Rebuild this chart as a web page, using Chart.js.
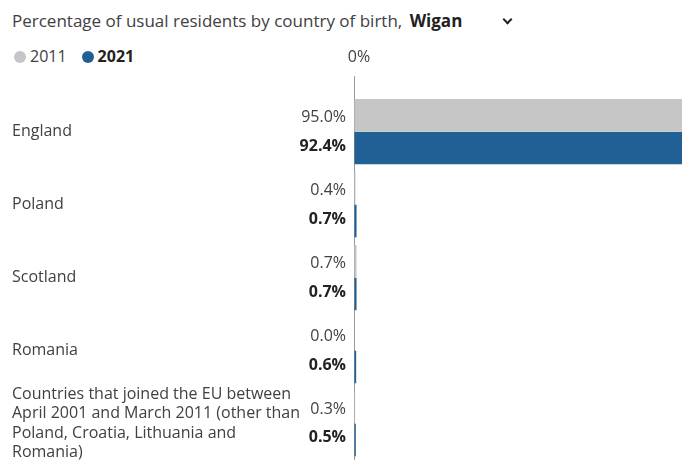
<!DOCTYPE html>
<html>

<head>
  <meta charset="UTF-8" />
  <title>Country of birth - Wigan</title>
  <script src="https://cdn.jsdelivr.net/npm/chart.js@4.4.1/dist/chart.umd.min.js"></script>
  <style>
    body { margin: 0; width: 682px; height: 464px; overflow: hidden; font-family: "Open Sans", sans-serif; color: #414042; background: #fff; position: relative; }
    #title { position: absolute; left: 12px; top: 9px; font-size: 17px; white-space: nowrap; }
    #title b { color: #222; margin-left: 3px; }
    #chev { display: inline-block; width: 5px; height: 5px; border-right: 2px solid #222; border-bottom: 2px solid #222; transform: rotate(45deg); margin-left: 42px; position: relative; top: -4px; }
    #legend { position: absolute; left: 14px; top: 45px; font-size: 16px; white-space: nowrap; }
    .dot { display: inline-block; width: 12px; height: 12px; border-radius: 50%; vertical-align: -1px; margin-right: 4px; }
    #chart { position: absolute; left: 0; top: 0; }
  </style>
</head>

<body>
  <div id="title">Percentage of usual residents by country of birth, <b>Wigan</b><span id="chev"></span></div>
  <div id="legend"><span class="dot" style="background:#c6c6c6"></span>2011<span class="dot" style="background:#206095;margin-left:15px"></span><b style="color:#222">2021</b></div>
  <canvas id="chart" width="682" height="464"></canvas>
  <script>
    const categories = [
      'England',
      'Poland',
      'Scotland',
      'Romania',
      ['Countries that joined the EU between', 'April 2001 and March 2011 (other than', 'Poland, Croatia, Lithuania and', 'Romania)']
    ];
    const values2011 = [95.0, 0.4, 0.7, 0.0, 0.3];
    const values2021 = [92.4, 0.7, 0.7, 0.6, 0.5];

    // value labels sit left of the zero line, one per bar
    const valueLabels = {
      id: 'valueLabels',
      afterDatasetsDraw(chart) {
        const ctx = chart.ctx;
        const x = chart.chartArea.left - 8;
        ctx.save();
        ctx.textAlign = 'right';
        ctx.textBaseline = 'middle';
        const a = chart.getDatasetMeta(0).data;
        const b = chart.getDatasetMeta(1).data;
        a.forEach((bar, i) => {
          ctx.font = '16px "Open Sans"';
          ctx.fillStyle = '#414042';
          ctx.fillText(values2011[i].toFixed(1) + '%', x, bar.y + 2);
          ctx.font = 'bold 16px "Open Sans"';
          ctx.fillStyle = '#222';
          ctx.fillText(values2021[i].toFixed(1) + '%', x, b[i].y - 2);
        });
        ctx.restore();
      }
    };

    new Chart(document.getElementById('chart'), {
      type: 'bar',
      data: {
        labels: categories,
        datasets: [
          { label: '2011', data: values2011, backgroundColor: '#c6c6c6', categoryPercentage: 0.9, barPercentage: 0.99 },
          { label: '2021', data: values2021, backgroundColor: '#206095', categoryPercentage: 0.9, barPercentage: 0.99 }
        ]
      },
      options: {
        indexAxis: 'y',
        responsive: false,
        animation: false,
        layout: { padding: { left: 12, top: 39, right: 0, bottom: 4 } },
        plugins: { legend: { display: false }, tooltip: { enabled: false } },
        scales: {
          x: {
            position: 'top',
            min: 0,
            max: 90,
            afterBuildTicks: axis => { axis.ticks = [{ value: 0 }]; },
            ticks: {
              padding: 9,
              labelOffset: 5,
              color: '#414042',
              font: { family: 'Open Sans', size: 16 },
              callback: v => v + '%'
            },
            grid: { color: '#999', tickLength: 19, lineWidth: 1 },
            border: { display: false }
          },
          y: {
            afterFit: scale => {
              scale.width = 342;
              scale.paddingTop = 0;
              scale.paddingBottom = 0;
            },
            ticks: {
              autoSkip: false,
              crossAlign: 'far',
              color: '#414042',
              font: { family: 'Open Sans', size: 16, lineHeight: 1.2 }
            },
            grid: { display: false },
            border: { display: false }
          }
        }
      },
      plugins: [valueLabels]
    });
  </script>
</body>

</html>
